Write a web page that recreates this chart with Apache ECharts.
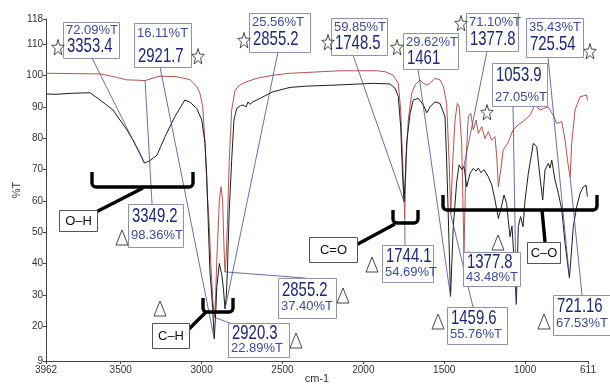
<!DOCTYPE html>
<html>
<head>
<meta charset="utf-8">
<script src="https://cdn.jsdelivr.net/npm/echarts@6/dist/echarts.min.js"></script>
<style>
  html, body { margin: 0; padding: 0; background: #fff; }
  #chart { width: 610px; height: 384px; }
</style>
</head>
<body>
<div id="chart"></div>
<script>
// ---- Spectrum 1 (red trace): wavenumber (cm-1) and transmittance (%T)
const redWavenumbers = [
  3960, 3800, 3628, 3525, 3463, 3400, 3349.2, 3300, 3257, 3154, 3072, 3030, 3010, 2993, 2979,
  2965, 2952, 2944, 2931, 2920.3, 2913, 2906, 2890, 2880, 2870, 2862, 2855.2, 2848, 2841, 2829,
  2814, 2793, 2762, 2721, 2659, 2557, 2453, 2144, 1917, 1866, 1815, 1784, 1769, 1757, 1744.1,
  1736, 1722, 1701, 1680, 1650, 1630, 1608, 1588, 1557, 1526, 1505, 1485, 1470, 1459.6, 1447,
  1433, 1419, 1407, 1392, 1377.8, 1365, 1351, 1336, 1320, 1303, 1289, 1268, 1248, 1227, 1206,
  1186, 1175, 1165, 1150, 1136, 1106, 1075, 1044, 1013, 969, 939, 908, 858, 827, 804,
  773, 753, 735, 721.16, 712, 691, 660, 619, 615
];
const redTransmittance = [
  100.7, 100.6, 100.5, 99.4, 98.6, 98.5, 98.36, 99.2, 99.8, 99.6, 98.7, 96.5, 94.3, 90, 78.4,
  62.4, 51.8, 41.2, 28.4, 22.89, 30, 41.2, 60.3, 64.5, 60.3, 46, 37.40, 42, 51.8, 73,
  89, 95.4, 97, 98, 99.1, 100.1, 100.7, 101.5, 101.5, 101.2, 100.1, 97.5, 89, 73, 54.69,
  73, 85.8, 94.3, 97, 98.6, 97.5, 97, 97.5, 99.1, 98.6, 96.5, 91.1, 73, 55.76, 73,
  85.8, 91.1, 90, 78.4, 43.48, 73, 86.8, 87.9, 82.6, 85.8, 81.5, 83.7, 79.9, 82.1, 79.4,
  80.5, 74, 64.5, 70, 76.2, 78.5, 82.6, 84.2, 85.3, 87.4, 90.6, 89, 90, 87.4, 84.7,
  85.3, 79.4, 72, 67.53, 78.4, 89, 93.2, 93.8, 92
];

// ---- Spectrum 2 (black trace)
const blackWavenumbers = [
  3960, 3900, 3813, 3690, 3628, 3548, 3461, 3424, 3380, 3353.4, 3320, 3276, 3226, 3164, 3103,
  3072, 3030, 2999, 2979, 2968, 2958, 2948, 2940, 2932, 2921.7, 2912, 2906, 2890, 2874, 2865,
  2855.2, 2847, 2841, 2829, 2814, 2800, 2783, 2760, 2744, 2725, 2713, 2701, 2682, 2639, 2559,
  2453, 2350, 2144, 1940, 1835, 1804, 1784, 1769, 1757, 1748.5, 1740, 1732, 1711, 1691, 1660,
  1629, 1608, 1588, 1557, 1526, 1507, 1495, 1485, 1470, 1461, 1444, 1423, 1408, 1390, 1377.8,
  1361, 1340, 1320, 1303, 1289, 1272, 1254, 1227, 1206, 1186, 1165, 1144, 1130, 1114, 1104,
  1093, 1081, 1068, 1053.9, 1042, 1028, 1013, 1000, 980, 949, 928, 908, 891, 877, 856,
  846, 835, 815, 794, 773, 753, 725.54, 702, 681, 660, 640, 623, 615
];
const blackTransmittance = [
  94.1, 94.0, 94.3, 94.5, 92.2, 89, 82.6, 79.4, 75, 72.09, 72.8, 74.6, 80.5, 87, 92.2,
  91.5, 89.5, 85.8, 78.5, 67.7, 51.8, 37, 32, 26, 16.11, 25, 32.7, 40.1, 36, 32,
  25.56, 30, 37, 57.1, 73, 85.8, 89.5, 90.4, 90.6, 90, 91.6, 90.8, 91.6, 92.7, 94.8,
  96.2, 96.6, 97, 97.5, 97.3, 95.9, 93.3, 83.7, 67.7, 59.85, 68, 78.5, 87.9, 92.2, 92.7,
  90.6, 88.1, 90, 91.6, 91.1, 88.5, 86.8, 73, 46.6, 29.62, 51.8, 66, 71.5, 70, 71.10,
  64.5, 68.8, 70.4, 69.5, 70.5, 69, 70, 67.7, 65.1, 60.3, 54.4, 58.7, 61.9, 59.2, 53.9,
  48.6, 52, 41, 27.05, 51.8, 55, 51.8, 60.3, 68.8, 78.4, 77.3, 67.7, 60.3, 69.9, 72,
  70.5, 73, 66.7, 62.4, 57.1, 46.5, 35.43, 51.8, 58.2, 62.4, 64.5, 65.1, 61.4
];

// ---- Axis ticks
const xTickValues = [3962, 3500, 3000, 2500, 2000, 1500, 1000, 611];
const yTickValues = [9, 20, 30, 40, 50, 60, 70, 80, 90, 100, 110, 118];

// ---- Peak picks (star marks: black trace, triangle marks: red trace)
const starPeakWn = [3353.4, 2921.7, 2855.2, 1748.5, 1461, 1377.8, 1053.9, 725.54];
const starPeakT = [72.09, 16.11, 25.56, 59.85, 29.62, 71.10, 27.05, 35.43];
const trianglePeakWn = [3349.2, 2920.3, 2855.2, 1744.1, 1459.6, 1377.8, 721.16];
const trianglePeakT = [98.36, 22.89, 37.40, 54.69, 55.76, 43.48, 67.53];

// ---- Functional group names
const groupNames = ['O\u2013H', 'C\u2013H', 'C=O', 'C\u2013O'];

// ---- Label box layout (pixels): box, text offsets, mark position, leader anchor
const starBoxLayout = [
  { x: 63, y: 22, w: 56, h: 36, order: 'pct', d1: 2, d2: 14, mark: [58, 48], anchor: [92, 58] },
  { x: 134, y: 23, w: 57, h: 44, order: 'pct', d1: 4, d2: 23, mark: [198, 57], anchor: [160, 67] },
  { x: 249, y: 13, w: 61, h: 39, order: 'pct', d1: 3, d2: 16, mark: [244, 41], anchor: [278, 52] },
  { x: 331, y: 18, w: 56, h: 37, order: 'pct', d1: 3, d2: 15, mark: [328, 43], anchor: [353, 55] },
  { x: 403, y: 33, w: 55, h: 36, order: 'pct', d1: 3, d2: 15, mark: [397, 48], anchor: [418, 69] },
  { x: 466, y: 13, w: 52, h: 38, order: 'pct', d1: 3, d2: 16, mark: [461, 24], anchor: [487, 51] },
  { x: 492, y: 63, w: 55, h: 43, order: 'num', d1: 2, d2: 28, mark: [487, 113], anchor: [513, 106] },
  { x: 526, y: 18, w: 57, h: 39, order: 'pct', d1: 3, d2: 16, mark: [590, 52], anchor: [548, 57] }
];
const triangleBoxLayout = [
  { x: 128, y: 204, w: 55, h: 43, order: 'num', d1: 2, d2: 25, mark: [122, 238], anchor: [152, 204] },
  { x: 228, y: 323, w: 61, h: 34, order: 'num', d1: 0, d2: 19, mark: [296, 341], anchor: [230, 323] },
  { x: 278, y: 278, w: 58, h: 40, order: 'num', d1: 2, d2: 22, mark: [343, 296], anchor: [305, 278] },
  { x: 382, y: 245, w: 51, h: 37, order: 'num', d1: 1, d2: 21, mark: [372, 265], anchor: [405, 245] },
  { x: 447, y: 307, w: 60, h: 37, order: 'num', d1: 1, d2: 21, mark: [438, 322], anchor: [473, 307] },
  { x: 463, y: 252, w: 57, h: 34, order: 'num', d1: 0, d2: 19, mark: [498, 243], anchor: [470, 252] },
  { x: 553, y: 295, w: 57, h: 40, order: 'num', d1: 1, d2: 22, mark: [544, 322], anchor: [582, 295] }
];
// Group brackets (pixels): bracket span, stem, name box
const groupLayout = [
  { left: 92, right: 193, top: 172, bottom: 187, stemFrom: [143, 188], stemTo: [96, 212], box: [59, 210, 38, 21] },
  { left: 203, right: 233, top: 298, bottom: 312, stemFrom: [206, 312], stemTo: [189, 329], box: [152, 323, 37, 25] },
  { left: 393, right: 418, top: 210, bottom: 223, stemFrom: [395, 224], stemTo: [356, 245], box: [309, 237, 48, 25] },
  { left: 443, right: 597, top: 195, bottom: 210, stemFrom: [542, 210], stemTo: [545, 242], box: [527, 242, 33, 21] }
];
const extraTriangles = [[160, 309]];

const FONT_SMALL = '"Liberation Sans", Arial, sans-serif';
const NAVY = '#1d2677';
const BLUE = '#3c4b9e';
const LEADER = '#3f4d92';
const BOXLINE = '#8a93b0';
const NUM_SIZE = 21;
const NUM_SCALE_X = 0.71;

const chart = echarts.init(document.getElementById('chart'), null, { renderer: 'canvas' });

function pairs(xs, ys) { return xs.map((x, i) => [x, ys[i]]); }

chart.setOption({
  animation: false,
  backgroundColor: '#ffffff',
  grid: { left: 46, right: 22, top: 19, bottom: 23, containLabel: false, outerBoundsMode: 'none' },
  xAxis: {
    type: 'value', inverse: true, min: 611, max: 3962,
    name: 'cm-1', nameLocation: 'middle', nameGap: 12, nameMoveOverlap: false,
    nameTextStyle: { fontSize: 11, color: '#333', fontFamily: FONT_SMALL },
    axisLine: { show: true, lineStyle: { color: '#444', width: 1 } },
    axisTick: { show: true, length: 3, inside: false, customValues: xTickValues, lineStyle: { color: '#444' } },
    axisLabel: { show: true, customValues: xTickValues, fontSize: 10, color: '#333', margin: 4,
      fontFamily: FONT_SMALL, formatter: v => String(v) },
    splitLine: { show: false }
  },
  yAxis: {
    type: 'value', min: 9, max: 118,
    name: '%T', nameLocation: 'middle', nameGap: 24, nameRotate: 90, nameMoveOverlap: false,
    nameTextStyle: { fontSize: 11, color: '#333', fontFamily: FONT_SMALL },
    axisLine: { show: true, lineStyle: { color: '#444', width: 1 } },
    axisTick: { show: true, length: 3, inside: false, customValues: yTickValues, lineStyle: { color: '#444' } },
    axisLabel: { show: true, customValues: yTickValues, fontSize: 10, color: '#333', margin: 3,
      fontFamily: FONT_SMALL, formatter: v => String(v) },
    splitLine: { show: false }
  },
  series: [
    {
      type: 'line', name: 'red', data: pairs(redWavenumbers, redTransmittance),
      showSymbol: false, symbol: 'none', smooth: false, z: 3,
      lineStyle: { color: '#b5534e', width: 1 }
    },
    {
      type: 'line', name: 'black', data: pairs(blackWavenumbers, blackTransmittance),
      showSymbol: false, symbol: 'none', smooth: false, z: 4,
      lineStyle: { color: '#1e1e1e', width: 1 }
    }
  ]
});

// ---- Annotation graphics
function starPoints(cx, cy) {
  const pts = [];
  for (let i = 0; i < 10; i++) {
    const a = -Math.PI / 2 + i * Math.PI / 5;
    const rx = i % 2 === 0 ? 6.5 : 2.7;
    const ry = i % 2 === 0 ? 8.5 : 3.6;
    pts.push([cx + rx * Math.cos(a), cy + ry * Math.sin(a)]);
  }
  return pts;
}
function trianglePoints(cx, cy) {
  return [[cx, cy - 8], [cx - 6, cy + 7], [cx + 6, cy + 7]];
}
// Bracket outline: two uprights joined by a base with rounded corners
function bracketPoints(gr) {
  const r = 4, pts = [[gr.left, gr.top], [gr.left, gr.bottom - r]];
  for (let k = 1; k <= 4; k++) {
    const a = Math.PI - k * Math.PI / 8;
    pts.push([gr.left + r + r * Math.cos(a), gr.bottom - r + r * Math.sin(a)]);
  }
  pts.push([gr.right - r, gr.bottom]);
  for (let k = 1; k <= 4; k++) {
    const a = Math.PI / 2 - k * Math.PI / 8;
    pts.push([gr.right - r + r * Math.cos(a), gr.bottom - r + r * Math.sin(a)]);
  }
  pts.push([gr.right, gr.top]);
  return pts;
}
function fmtNum(v) { return String(v); }
function fmtPct(v) { return v.toFixed(2) + '%T'; }

const g = [];
function addLabelBox(b, wn, t, markType) {
  const p = chart.convertToPixel({ gridIndex: 0 }, [wn, t]);
  g.push({ type: 'line', z: 10, silent: true,
    shape: { x1: b.anchor[0], y1: b.anchor[1], x2: p[0], y2: p[1] },
    style: { stroke: LEADER, lineWidth: 0.8 } });
  g.push({ type: 'rect', z: 20, silent: true,
    shape: { x: b.x + 0.5, y: b.y + 0.5, width: b.w, height: b.h },
    style: { fill: '#ffffff', stroke: BOXLINE, lineWidth: 1 } });
  const numY = b.order === 'pct' ? b.y + b.d2 : b.y + b.d1;
  const pctY = b.order === 'pct' ? b.y + b.d1 : b.y + b.d2;
  g.push({ type: 'text', z: 21, silent: true, x: b.x + 4, y: numY, scaleX: NUM_SCALE_X,
    style: { text: fmtNum(wn), x: 0, y: 0, fill: NAVY, fontSize: NUM_SIZE, fontFamily: FONT_SMALL,
      textAlign: 'left', textVerticalAlign: 'top' } });
  g.push({ type: 'text', z: 21, silent: true, x: b.x + 3, y: pctY,
    style: { text: fmtPct(t), x: 0, y: 0, fill: BLUE, fontSize: 13, fontFamily: FONT_SMALL,
      textAlign: 'left', textVerticalAlign: 'top' } });
  const pts = markType === 'star' ? starPoints(b.mark[0], b.mark[1]) : trianglePoints(b.mark[0], b.mark[1]);
  g.push({ type: 'polygon', z: 22, silent: true, shape: { points: pts },
    style: { fill: 'rgba(255,255,255,0)', stroke: '#333', lineWidth: 0.9 } });
}

starPeakWn.forEach((wn, i) => addLabelBox(starBoxLayout[i], wn, starPeakT[i], 'star'));
trianglePeakWn.forEach((wn, i) => addLabelBox(triangleBoxLayout[i], wn, trianglePeakT[i], 'triangle'));

groupLayout.forEach((gr, i) => {
  g.push({ type: 'polyline', z: 30, silent: true, shape: { points: bracketPoints(gr) },
    style: { fill: null, stroke: '#000', lineWidth: 3.4, lineJoin: 'round' } });
  g.push({ type: 'line', z: 30, silent: true,
    shape: { x1: gr.stemFrom[0], y1: gr.stemFrom[1], x2: gr.stemTo[0], y2: gr.stemTo[1] },
    style: { stroke: '#000', lineWidth: 3.4 } });
  const bx = gr.box;
  g.push({ type: 'rect', z: 31, silent: true,
    shape: { x: bx[0] + 0.5, y: bx[1] + 0.5, width: bx[2], height: bx[3] },
    style: { fill: '#ffffff', stroke: '#555', lineWidth: 1 } });
  g.push({ type: 'text', z: 32, silent: true, x: bx[0] + bx[2] / 2 + 0.5, y: bx[1] + bx[3] / 2 + 1,
    style: { text: groupNames[i], x: 0, y: 0, fill: '#111', fontSize: 13, fontFamily: FONT_SMALL,
      textAlign: 'center', textVerticalAlign: 'middle' } });
});

extraTriangles.forEach(p => {
  g.push({ type: 'polygon', z: 22, silent: true, shape: { points: trianglePoints(p[0], p[1]) },
    style: { fill: 'rgba(255,255,255,0)', stroke: '#333', lineWidth: 0.9 } });
});

chart.setOption({ graphic: { elements: g } });
</script>
</body>
</html>
